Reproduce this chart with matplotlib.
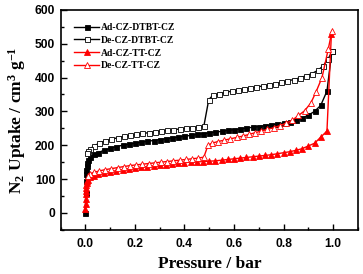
import matplotlib
matplotlib.use("Agg")
import matplotlib.pyplot as plt
from matplotlib.ticker import MultipleLocator

plt.rcParams["mathtext.default"] = "regular"

# ---- data ----
ad_dtbt_p = [0, 0.001, 0.002, 0.003, 0.004, 0.005, 0.007, 0.01, 0.02, 0.035, 0.05, 0.075,
             0.1, 0.125, 0.15, 0.175, 0.2, 0.225, 0.25, 0.275, 0.3, 0.325, 0.35, 0.375,
             0.4, 0.425, 0.45, 0.475, 0.5, 0.525, 0.55, 0.575, 0.6, 0.625, 0.65, 0.675,
             0.7, 0.725, 0.75, 0.775, 0.8, 0.825, 0.85, 0.875, 0.9, 0.925, 0.95, 0.975, 0.995]
ad_dtbt_v = [0, 60, 95, 115, 128, 138, 148, 156, 165, 173, 178, 185,
             191, 196, 200, 203, 206, 209, 212, 214, 217, 219, 222, 224,
             227, 229, 232, 234, 237, 239, 241, 244, 246, 248, 251, 253,
             255, 258, 260, 263, 266, 270, 274, 280, 289, 300, 318, 360, 478]

de_dtbt_p = [0.995, 0.98, 0.96, 0.94, 0.915, 0.89, 0.865, 0.84, 0.815, 0.79, 0.765, 0.74,
             0.715, 0.69, 0.665, 0.64, 0.615, 0.59, 0.565, 0.54, 0.515, 0.498, 0.478,
             0.455, 0.43, 0.405, 0.38, 0.355, 0.33, 0.305, 0.28, 0.255, 0.23, 0.205,
             0.18, 0.155, 0.13, 0.105, 0.08, 0.055, 0.035, 0.02, 0.012, 0.008]
de_dtbt_v = [477, 455, 435, 422, 412, 405, 399, 394, 390, 386, 381, 378,
             375, 372, 369, 366, 363, 360, 356, 352, 348, 335, 256,
             254, 252, 250, 248, 246, 244, 242, 240, 237, 235, 232,
             229, 226, 222, 218, 213, 206, 198, 190, 183, 177]

ad_tt_p = [0, 0.0005, 0.001, 0.0015, 0.002, 0.003, 0.004, 0.005, 0.007, 0.01, 0.02, 0.035,
           0.05, 0.075, 0.1, 0.125, 0.15, 0.175, 0.2, 0.225, 0.25, 0.275, 0.3, 0.325,
           0.35, 0.375, 0.4, 0.425, 0.45, 0.475, 0.5, 0.525, 0.55, 0.575, 0.6, 0.625,
           0.65, 0.675, 0.7, 0.725, 0.75, 0.775, 0.8, 0.825, 0.85, 0.875, 0.9, 0.925,
           0.95, 0.975, 0.993]
ad_tt_v = [12, 25, 40, 55, 65, 75, 83, 88, 93, 98, 105, 110,
           114, 118, 122, 125, 128, 131, 133, 135, 137, 139, 141, 143,
           145, 147, 149, 150, 151, 152, 153, 154, 156, 158, 160, 162,
           164, 166, 168, 170, 172, 175, 178, 181, 185, 190, 198, 206,
           224, 242, 530]

de_tt_p = [0.995, 0.98, 0.955, 0.93, 0.91, 0.885, 0.86, 0.835, 0.81, 0.785, 0.76, 0.735,
           0.71, 0.685, 0.66, 0.635, 0.61, 0.585, 0.56, 0.535, 0.51, 0.495, 0.478,
           0.455, 0.43, 0.405, 0.38, 0.355, 0.33, 0.305, 0.28, 0.255, 0.23, 0.205,
           0.18, 0.155, 0.13, 0.105, 0.08, 0.055, 0.035, 0.02, 0.01]
de_tt_v = [537, 483, 400, 356, 325, 302, 288, 274, 265, 258, 252, 247,
           242, 237, 232, 227, 223, 219, 215, 211, 206, 200, 165,
           162, 160, 158, 156, 154, 152, 150, 148, 146, 144, 142,
           140, 137, 134, 131, 128, 124, 120, 116, 110]

labels = ["Ad-CZ-DTBT-CZ", "De-CZ-DTBT-CZ", "Ad-CZ-TT-CZ", "De-CZ-TT-CZ"]
x_ticks = [0.0, 0.2, 0.4, 0.6, 0.8, 1.0]
y_ticks = [0, 100, 200, 300, 400, 500, 600]

# ---- plot ----
fig = plt.figure(figsize=(3.63, 2.74), dpi=100)
ax = fig.add_axes([0.167, 0.161, 0.819, 0.803])

ms = 3.6
lw = 1.0
ax.plot(ad_dtbt_p, ad_dtbt_v, color="black", marker="s", ms=ms, lw=lw,
        mfc="black", mec="black", mew=0.6, label=labels[0])
ax.plot(de_dtbt_p, de_dtbt_v, color="black", marker="s", ms=ms, lw=lw,
        mfc="white", mec="black", mew=0.6, label=labels[1])
ax.plot(ad_tt_p, ad_tt_v, color="red", marker="^", ms=ms + 0.6, lw=lw,
        mfc="red", mec="red", mew=0.6, label=labels[2])
ax.plot(de_tt_p, de_tt_v, color="red", marker="^", ms=ms + 0.6, lw=lw,
        mfc="white", mec="red", mew=0.6, label=labels[3])

ax.set_xlim(-0.1, 1.1)
ax.set_ylim(-50, 600)
ax.set_xticks(x_ticks)
ax.set_yticks(y_ticks)
ax.xaxis.set_minor_locator(MultipleLocator(0.1))
ax.yaxis.set_minor_locator(MultipleLocator(50))
ax.tick_params(which="both", direction="in", top=False, right=False)
ax.tick_params(which="major", length=4, width=1)
ax.tick_params(which="minor", length=2, width=1)
ax.tick_params(axis="x", which="major", pad=6)
ax.tick_params(axis="y", which="major", pad=4)
for s in ax.spines.values():
    s.set_linewidth(1.2)

tick_font = dict(family="Liberation Sans", weight="bold", size=8.7)
ax.set_xticklabels([f"{t:.1f}" for t in x_ticks], fontdict=tick_font)
ax.set_yticklabels([str(t) for t in y_ticks], fontdict=tick_font)

ax.set_xlabel("Pressure / bar", family="Liberation Serif", weight="bold", size=12.5, labelpad=4)
ax.set_ylabel(r"N$_2$ Uptake / cm$^3$ g$^{-1}$", family="Liberation Serif", weight="bold",
              size=12.5, labelpad=5)

leg = ax.legend(loc="upper left", frameon=False,
                prop=dict(family="Liberation Serif", weight="bold", size=6.9),
                handlelength=2.65, handletextpad=0.2, labelspacing=0.4,
                borderaxespad=0.0, bbox_to_anchor=(0.032, 0.958))

fig.savefig("out.png", dpi=100)
